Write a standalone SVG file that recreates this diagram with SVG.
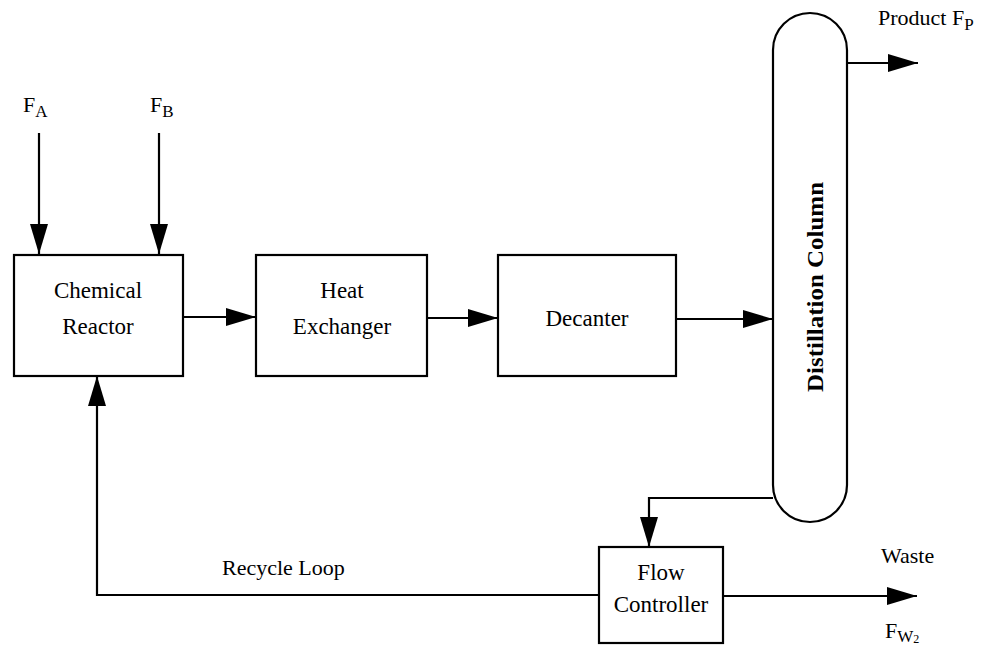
<svg xmlns="http://www.w3.org/2000/svg" width="984" height="647" viewBox="0 0 984 647">
  <style>
    .box { fill: #fff; stroke: #000; stroke-width: 2.2; }
    .flow { fill: none; stroke: #000; stroke-width: 2.2; }
    .lbl { font-family: "Liberation Serif", "Times New Roman", serif; font-size: 23px; fill: #000; text-anchor: middle; }
    .tag { font-family: "Liberation Serif", "Times New Roman", serif; font-size: 22px; fill: #000; }
    .sub { font-size: 17px; }
  </style>
  <defs>
    <marker id="arrow" markerUnits="userSpaceOnUse" markerWidth="30" markerHeight="18" refX="30" refY="9" orient="auto">
      <path d="M0,0 L30,9 L0,18 Z" fill="#000"/>
    </marker>
  </defs>
  <rect width="984" height="647" fill="#fff"/>

  <g id="connectors">
    <!-- feed streams -->
    <line class="flow" x1="39" y1="133" x2="39" y2="254" marker-end="url(#arrow)"/>
    <line class="flow" x1="159" y1="133" x2="159" y2="254" marker-end="url(#arrow)"/>
    <!-- main process line -->
    <line class="flow" x1="183" y1="317" x2="256" y2="317" marker-end="url(#arrow)"/>
    <line class="flow" x1="427" y1="318" x2="498" y2="318" marker-end="url(#arrow)"/>
    <line class="flow" x1="676" y1="319" x2="773" y2="319" marker-end="url(#arrow)"/>
    <!-- top product -->
    <line class="flow" x1="847" y1="63" x2="918" y2="63" marker-end="url(#arrow)"/>
    <!-- bottoms to flow controller -->
    <path class="flow" d="M773,498 L649,498 L649,547" marker-end="url(#arrow)"/>
    <!-- waste -->
    <line class="flow" x1="723" y1="596" x2="917" y2="596" marker-end="url(#arrow)"/>
    <!-- recycle loop -->
    <path class="flow" d="M599,595 L97,595 L97,376" marker-end="url(#arrow)"/>
  </g>

  <g id="feed-a">
    <text class="tag" x="23" y="112">F<tspan class="sub" dy="5">A</tspan></text>
  </g>
  <g id="feed-b">
    <text class="tag" x="150" y="112">F<tspan class="sub" dy="5">B</tspan></text>
  </g>

  <g id="reactor">
    <rect class="box" x="14" y="255" width="169" height="121"/>
    <text class="lbl" x="98" y="298">Chemical</text>
    <text class="lbl" x="98" y="334">Reactor</text>
  </g>

  <g id="heat-exchanger">
    <rect class="box" x="256" y="255" width="171" height="121"/>
    <text class="lbl" x="342" y="298">Heat</text>
    <text class="lbl" x="342" y="334">Exchanger</text>
  </g>

  <g id="decanter">
    <rect class="box" x="498" y="255" width="178" height="121"/>
    <text class="lbl" x="587" y="326">Decanter</text>
  </g>

  <g id="column">
    <rect class="box" x="773" y="13" width="74" height="509" rx="37" ry="37"/>
    <text class="lbl" font-weight="bold" font-size="24" x="0" y="0" transform="translate(823,287) rotate(-90)" textLength="210" lengthAdjust="spacingAndGlyphs">Distillation Column</text>
  </g>

  <g id="product">
    <text class="tag" x="878" y="25">Product F<tspan class="sub" dy="5">P</tspan></text>
  </g>

  <g id="flow-controller">
    <rect class="box" x="599" y="547" width="124" height="96"/>
    <text class="lbl" x="661" y="580">Flow</text>
    <text class="lbl" x="661" y="612">Controller</text>
  </g>

  <g id="recycle-label">
    <text class="tag" x="222" y="575">Recycle Loop</text>
  </g>

  <g id="waste">
    <text class="tag" x="881" y="563">Waste</text>
    <text class="tag" x="885" y="638">F<tspan class="sub" dy="4">W</tspan><tspan font-size="12" dy="1">2</tspan></text>
  </g>
</svg>
